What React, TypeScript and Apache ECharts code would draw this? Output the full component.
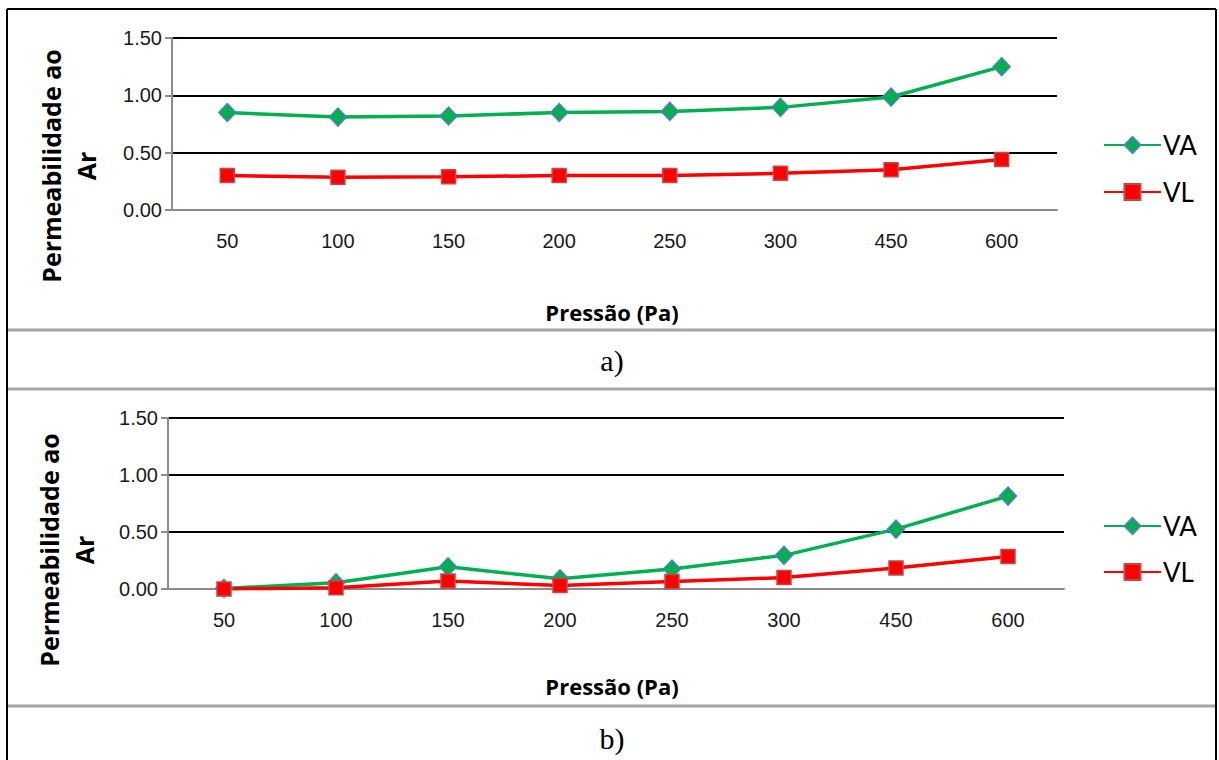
import React, { useEffect, useRef } from "react";
import * as echarts from "echarts";

const categories = ["50", "100", "150", "200", "250", "300", "450", "600"];
const vaA = [0.85, 0.81, 0.82, 0.85, 0.86, 0.895, 0.985, 1.25];
const vlA = [0.3, 0.285, 0.29, 0.3, 0.3, 0.32, 0.35, 0.44];
const vaB = [0.005, 0.055, 0.195, 0.09, 0.175, 0.295, 0.525, 0.815];
const vlB = [0.0, 0.012, 0.07, 0.03, 0.065, 0.1, 0.185, 0.285];
const yMin = 0;
const yMax = 1.5;
const yStep = 0.5;
const yTitle = "Permeabilidade ao\nAr";
const xTitle = "Pressão (Pa)";
const panelLabels = ["a)", "b)"];

const GREEN = "#00b050";
const RED = "#ff0000";

function makeY(gridIndex: number) {
  return {
    type: "value",
    gridIndex,
    min: yMin,
    max: yMax,
    interval: yStep,
    axisLine: { show: true, lineStyle: { color: "#8c8c8c", width: 2 } },
    axisTick: { show: true, length: 7, lineStyle: { color: "#8c8c8c", width: 2 } },
    axisLabel: {
      formatter: (v: number) => v.toFixed(2),
      fontFamily: "Liberation Sans",
      fontSize: 20,
      color: "#1a1a1a",
      margin: 10,
    },
    splitLine: { show: true, lineStyle: { color: "#000", width: 2 } },
  };
}

function makeX(gridIndex: number) {
  return {
    type: "category",
    gridIndex,
    data: categories,
    boundaryGap: true,
    axisLine: { show: true, lineStyle: { color: "#8c8c8c", width: 2 } },
    axisTick: { show: false },
    axisLabel: {
      fontFamily: "Liberation Sans",
      fontSize: 20,
      color: "#1a1a1a",
      margin: 21,
    },
    splitLine: { show: false },
  };
}

function va(data: number[], idx: number) {
  return {
    name: "VA",
    type: "line",
    xAxisIndex: idx,
    yAxisIndex: idx,
    data,
    symbol: "diamond",
    symbolSize: [17, 18],
    lineStyle: { color: GREEN, width: 3.5 },
    itemStyle: { color: GREEN, borderColor: "#4f81bd", borderWidth: 1.5 },
  };
}

function vl(data: number[], idx: number) {
  return {
    name: "VL",
    type: "line",
    xAxisIndex: idx,
    yAxisIndex: idx,
    data,
    symbol: "rect",
    symbolSize: 14,
    lineStyle: { color: RED, width: 3.5 },
    itemStyle: { color: RED, borderColor: "#be4b48", borderWidth: 1.5 },
  };
}

function legendAt(top: number, gap: number) {
  return {
    orient: "vertical",
    left: 1098,
    top,
    itemWidth: 57,
    itemHeight: 20,
    itemGap: gap,
    data: ["VA", "VL"],
    textStyle: { fontFamily: "Lato", fontSize: 26, color: "#000", padding: [0, 0, 0, -3] },
  };
}

function titleY(x: number, y: number) {
  return {
    type: "text",
    x,
    y,
    rotation: Math.PI / 2,
    style: {
      text: yTitle,
      fontFamily: "Open Sans",
      fontWeight: "bold",
      fontSize: 25,
      lineHeight: 35,
      align: "center",
      verticalAlign: "middle",
      fill: "#000",
    },
  };
}

function centerText(text: string, y: number, family: string, size: number, bold: boolean) {
  return {
    type: "text",
    x: 612,
    y,
    style: {
      text,
      fontFamily: family,
      fontWeight: bold ? "bold" : "normal",
      fontSize: size,
      align: "center",
      verticalAlign: "middle",
      fill: "#000",
    },
  };
}

export default function App() {
  const ref = useRef<HTMLDivElement>(null);
  useEffect(() => {
    if (!ref.current) return;
    const chart = echarts.init(ref.current, undefined, { renderer: "svg" });
    const sepStyle = { stroke: "#a6a6a6", lineWidth: 3 };
    const borderStyle = { stroke: "#000", lineWidth: 2 };
    chart.setOption({
      animation: false,
      backgroundColor: "#fff",
      grid: [
        { left: 172, right: 162, top: 38, bottom: 550 },
        { left: 168, right: 155, top: 418, bottom: 171 },
      ],
      xAxis: [makeX(0), makeX(1)],
      yAxis: [makeY(0), makeY(1)],
      legend: [legendAt(127, 21), legendAt(508, 20)],
      series: [va(vaA, 0), vl(vlA, 0), va(vaB, 1), vl(vlB, 1)],
      graphic: [
        { type: "line", shape: { x1: 7, y1: 9, x2: 1216, y2: 9 }, style: borderStyle },
        { type: "line", shape: { x1: 7, y1: 9, x2: 7, y2: 760 }, style: borderStyle },
        { type: "line", shape: { x1: 1216, y1: 9, x2: 1216, y2: 760 }, style: borderStyle },
        { type: "line", shape: { x1: 8, y1: 330, x2: 1215, y2: 330 }, style: sepStyle },
        { type: "line", shape: { x1: 8, y1: 389, x2: 1215, y2: 389 }, style: sepStyle },
        { type: "line", shape: { x1: 8, y1: 706, x2: 1215, y2: 706 }, style: sepStyle },
        titleY(68, 166),
        titleY(66, 550),
        centerText(xTitle, 312, "Open Sans", 22, true),
        centerText(xTitle, 686, "Open Sans", 22, true),
        centerText(panelLabels[0], 360, "Liberation Serif", 30, false),
        centerText(panelLabels[1], 738, "Liberation Serif", 30, false),
      ],
    });
    return () => chart.dispose();
  }, []);
  return (
    <div
      ref={ref}
      style={{ position: "absolute", left: 0, top: 0, width: 1219, height: 760, background: "#fff" }}
    />
  );
}
